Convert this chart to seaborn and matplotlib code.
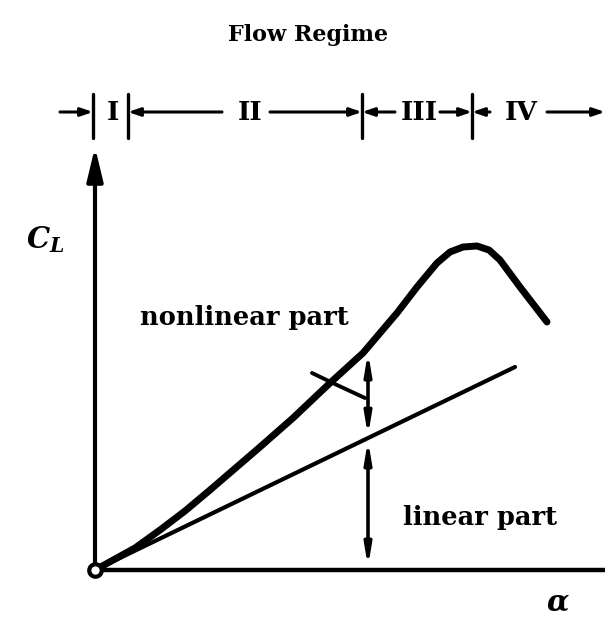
import numpy as np
import matplotlib
matplotlib.use("Agg")
import matplotlib.pyplot as plt
import seaborn as sns

# Lift curve C_L(alpha): rises, bends upward, peaks and stalls
alpha_cl = [0.0, 2.0, 3.25, 4.5, 5.75, 8.25, 9.9, 11.75, 13.4, 15.1, 16.1, 17.1, 17.75, 18.4,
            19.1, 19.7, 20.25, 21.25, 22.6]
cl = [0.0, 1.1, 2.0, 2.95, 4.0, 6.15, 7.6, 9.35, 10.85, 12.85, 14.15, 15.35, 15.9, 16.15,
      16.2, 16.0, 15.5, 14.15, 12.4]

# Linear (potential-flow) part of the lift
alpha_lin = [0.0, 21.0]
cl_lin = [0.0, 10.15]

# Angle at which the split into linear / nonlinear part is shown
alpha_split = 13.65

# Small arc crossing the lift curve
arc_alpha = [10.85, 12.1, 13.5]
arc_cl = [9.85, 9.25, 8.6]

# Flow regimes along the alpha axis
regime_bounds = [-0.1, 1.65, 13.35, 18.85]
regime_names = ["I", "II", "III", "IV"]
regime_label_pos = [0.9, 7.75, 16.2, 21.3]
regime_level = 22.9

sns.set_theme(style="white")
plt.rcParams["text.color"] = "black"
plt.rcParams["mathtext.fontset"] = "custom"
plt.rcParams["mathtext.it"] = "DejaVu Serif:italic:bold"
plt.rcParams["mathtext.rm"] = "DejaVu Serif:bold"
plt.rcParams["mathtext.bf"] = "DejaVu Serif:italic:bold"

TXT = dict(family="DejaVu Serif", weight="bold", color="black")

fig = plt.figure(figsize=(6.05, 6.17), dpi=100)
ax = fig.add_axes([0, 0, 1, 1])
ax.set_xlim(-4.75, 25.5)
ax.set_ylim(-2.35, 28.5)
ax.axis("off")

# axes of the sketch
ax.plot([0, 25.5], [0, 0], color="black", lw=3.2, solid_capstyle="butt")
ax.annotate("", xy=(0, 21.15), xytext=(0, 0),
            arrowprops=dict(arrowstyle="-|>,head_length=1.0,head_width=0.24",
                            lw=3.0, color="black", shrinkA=0, shrinkB=0,
                            mutation_scale=20))

# lift curves
sns.lineplot(x=alpha_cl, y=cl, sort=False, estimator=None, color="black",
             lw=5.0, ax=ax, solid_capstyle="round", solid_joinstyle="round")
sns.lineplot(x=alpha_lin, y=cl_lin, sort=False, estimator=None, color="black",
             lw=3.0, ax=ax, solid_capstyle="round")
sns.lineplot(x=arc_alpha, y=arc_cl, sort=False, estimator=None, color="black",
             lw=2.8, ax=ax, solid_capstyle="round")

# dimension arrows: linear part and nonlinear part at alpha_split
lin_at = np.interp(alpha_split, alpha_lin, cl_lin)
tot_at = np.interp(alpha_split, alpha_cl, cl)
dim = dict(arrowstyle="<|-|>,head_length=0.6,head_width=0.1", lw=2.6,
           color="black", shrinkA=0, shrinkB=0, mutation_scale=20)
ax.annotate("", xy=(alpha_split, lin_at - 0.1), xytext=(alpha_split, 0.15), arrowprops=dim)
ax.annotate("", xy=(alpha_split, tot_at - 0.25), xytext=(alpha_split, lin_at + 0.1), arrowprops=dim)

# origin marker
ax.plot(0, 0, marker="o", ms=9, mfc="white", mec="black", mew=3, zorder=6)

# flow regime bar
bar = dict(arrowstyle="-|>,head_length=0.35,head_width=0.12", lw=2.2,
           color="black", shrinkA=0, shrinkB=0, mutation_scale=20)
segments = [(-1.75, regime_bounds[0]), (6.35, regime_bounds[1]),
            (8.75, regime_bounds[2]), (15.0, regime_bounds[2]),
            (17.25, regime_bounds[3]), (19.75, regime_bounds[3]),
            (22.6, 25.5)]
for start, end in segments:
    ax.annotate("", xy=(end, regime_level), xytext=(start, regime_level), arrowprops=bar)
for b in regime_bounds:
    ax.plot([b, b], [regime_level - 1.3, regime_level + 0.9], color="black", lw=2.4)
for name, pos in zip(regime_names, regime_label_pos):
    ax.text(pos, regime_level, name, ha="center", va="center", fontsize=19, **TXT)

# labels
fig.text(308 / 605, 1 - 35 / 617, "Flow Regime", ha="center", va="center", fontsize=16, **TXT)
ax.text(-2.5, 16.5, r"$C_L$", ha="center", va="center", fontsize=21, color="black")
ax.text(23.15, -1.65, r"$\alpha$", ha="center", va="center", fontsize=21, color="black")
ax.text(2.25, 12.6, "nonlinear part", ha="left", va="center", fontsize=18.5, **TXT)
ax.text(15.4, 2.65, "linear part", ha="left", va="center", fontsize=18.5, **TXT)

fig.savefig("out.png", dpi=100, facecolor="white")
